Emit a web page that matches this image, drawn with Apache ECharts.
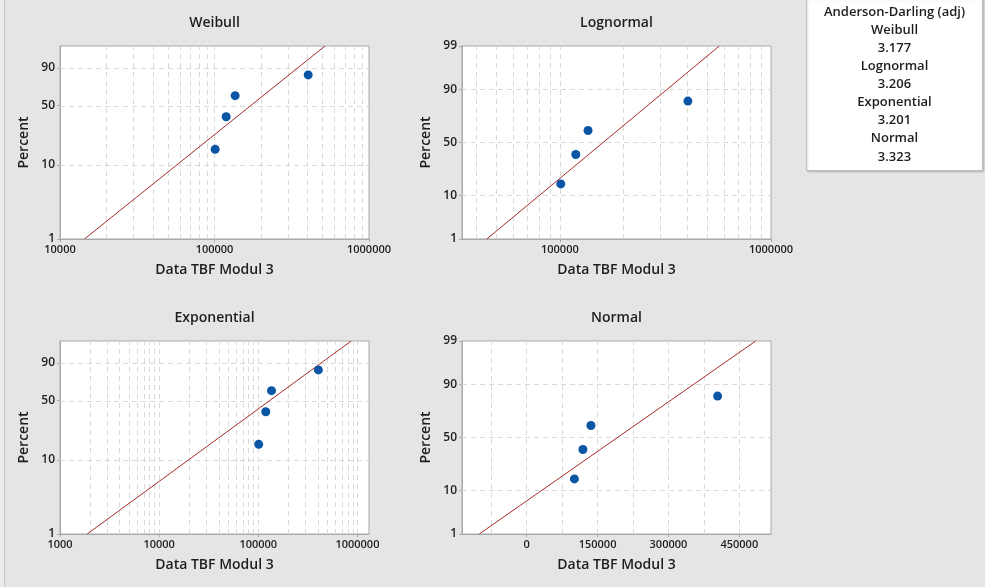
<!DOCTYPE html>
<html>
<head>
<meta charset="utf-8">
<script src="https://cdn.jsdelivr.net/npm/echarts@6/dist/echarts.min.js"></script>
<style>
html,body{margin:0;padding:0;background:#e5e5e5;}
#chart{width:985px;height:587px;}
</style>
</head>
<body>
<div id="chart"></div>
<script>
// ---------- data ----------
const tbfData = [101000, 119000, 136000, 404000];          // Data TBF Modul 3
const percentData = [15.9, 38.6, 61.4, 84.1];               // plotted percent
const fitPercent = [1, 99];                                  // fitted line end percents
const weibullFitX = [14400, 519000];
const lognormalFitX = [45100, 569000];
const exponentialFitX = [1880, 865000];
const normalFitX = [-100300, 484600];

const panelTitles = ['Weibull', 'Lognormal', 'Exponential', 'Normal'];
const xAxisName = 'Data TBF Modul 3';
const yAxisName = 'Percent';

const weibullYTicks = [1, 10, 50, 90];
const lognormalYTicks = [1, 10, 50, 90, 99];
const exponentialYTicks = [1, 10, 50, 90];
const normalYTicks = [1, 10, 50, 90, 99];
const yGridPercents = [10, 50, 90];

const normalXTicks = [0, 150000, 300000, 450000];
const weibullXGrid = [20000, 30000, 40000, 50000, 60000, 70000, 80000, 90000, 100000, 200000, 300000, 400000, 500000, 600000, 700000, 800000, 900000];
const lognormalXGrid = [40000, 50000, 60000, 70000, 80000, 90000, 100000, 200000, 300000, 400000, 500000, 600000, 700000, 800000, 900000];
const exponentialXGrid = [2000, 3000, 4000, 5000, 6000, 7000, 8000, 9000, 10000, 20000, 30000, 40000, 50000, 60000, 70000, 80000, 90000, 100000, 200000, 300000, 400000, 500000, 600000, 700000, 800000, 900000, 1000000];
const normalXGrid = [-75000, 0, 75000, 150000, 225000, 300000, 375000, 450000];

const adTitle = 'Anderson-Darling (adj)';
const adNames = ['Weibull', 'Lognormal', 'Exponential', 'Normal'];
const adValues = ['3.177', '3.206', '3.201', '3.323'];

// ---------- probability scale transforms ----------
function invNorm(p){
  const a=[-3.969683028665376e+01,2.209460984245205e+02,-2.759285104469687e+02,1.383577518672690e+02,-3.066479806614716e+01,2.506628277459239e+00];
  const b=[-5.447609879822406e+01,1.615858368580409e+02,-1.556989798598866e+02,6.680131188771972e+01,-1.328068155288572e+01];
  const c=[-7.784894002430293e-03,-3.223964580411365e-01,-2.400758277161838e+00,-2.549732539343734e+00,4.374664141464968e+00,2.938163982698783e+00];
  const d=[7.784695709041462e-03,3.224671290700398e-01,2.445134137142996e+00,3.754408661907416e+00];
  const pl=0.02425, ph=1-pl; let q,r;
  if(p<pl){q=Math.sqrt(-2*Math.log(p));return (((((c[0]*q+c[1])*q+c[2])*q+c[3])*q+c[4])*q+c[5])/((((d[0]*q+d[1])*q+d[2])*q+d[3])*q+1);}
  if(p>ph){q=Math.sqrt(-2*Math.log(1-p));return -(((((c[0]*q+c[1])*q+c[2])*q+c[3])*q+c[4])*q+c[5])/((((d[0]*q+d[1])*q+d[2])*q+d[3])*q+1);}
  q=p-0.5;r=q*q;return (((((a[0]*r+a[1])*r+a[2])*r+a[3])*r+a[4])*r+a[5])*q/(((((b[0]*r+b[1])*r+b[2])*r+b[3])*r+b[4])*r+1);
}
const tWeibull = p => Math.log(-Math.log(1 - p / 100));
const tNormal = p => invNorm(p / 100);

// ---------- layout ----------
const FONT = '"Open Sans", "Noto Sans", sans-serif';
const TXT = '#1e1e1e';
const GRIDC = '#d9d9d9';
const panels = [
  {left: 60,  top: 46,  xType: 'log',   xMin: 10000,  xMax: 1000000, t: tWeibull, yTicks: weibullYTicks,     xGrid: weibullXGrid,     fitX: weibullFitX},
  {left: 462, top: 46,  xType: 'log',   xMin: 34400,  xMax: 1000000, t: tNormal,  yTicks: lognormalYTicks,   xGrid: lognormalXGrid,   fitX: lognormalFitX},
  {left: 60,  top: 341, xType: 'log',   xMin: 1000,   xMax: 1309000, t: tWeibull, yTicks: exponentialYTicks, xGrid: exponentialXGrid, fitX: exponentialFitX},
  {left: 462, top: 341, xType: 'value', xMin: -136800, xMax: 517000, t: tNormal,  yTicks: normalYTicks,      xGrid: normalXGrid,      fitX: normalFitX}
];
const W = 309, H = 193;

const grids = [], xAxes = [], yAxes = [], series = [];
const gridLine = {color: GRIDC, type: [5, 4], width: 1};

panels.forEach((pn, i) => {
  grids.push({left: pn.left, top: pn.top, width: W, height: H, show: true,
    backgroundColor: '#ffffff', borderColor: '#a8a8a8', borderWidth: 1, outerBoundsMode: 'none', containLabel: false});
  const xa = {
    type: pn.xType, gridIndex: i, min: pn.xMin, max: pn.xMax,
    name: xAxisName, nameLocation: 'middle', nameGap: 24,
    nameTextStyle: {fontFamily: FONT, fontSize: 14, fontWeight: 600, color: TXT},
    axisLine: {show: true, onZero: false, lineStyle: {color: '#a8a8a8'}},
    axisTick: {show: true, length: 3, lineStyle: {color: '#a8a8a8'}},
    splitLine: {show: false},
    axisLabel: {fontFamily: FONT, fontSize: 11, fontWeight: 600, color: TXT, margin: 5,
      showMinLabel: pn.xType === 'log' && pn.xMin === 34400 ? false : true,
      showMaxLabel: pn.xMax === 1309000 ? false : true,
      formatter: v => String(Math.round(v))}
  };
  if (pn.xType === 'log') { xa.logBase = 10; }
  else {
    xa.axisLabel.customValues = normalXTicks;
    xa.axisTick.customValues = normalXTicks;
  }
  xAxes.push(xa);

  const yVals = pn.yTicks.map(pn.t);
  yAxes.push({
    type: 'value', gridIndex: i, min: pn.t(1), max: pn.t(99),
    name: yAxisName, nameLocation: 'middle', nameGap: 29, nameRotate: 90,
    nameTextStyle: {fontFamily: FONT, fontSize: 14, fontWeight: 600, color: TXT},
    axisLine: {show: true, onZero: false, lineStyle: {color: '#a8a8a8'}},
    axisTick: {show: true, length: 3, customValues: yVals, lineStyle: {color: '#a8a8a8'}},
    splitLine: {show: false},
    axisLabel: {fontFamily: FONT, fontSize: 12, fontWeight: 600, color: TXT, margin: 5,
      customValues: yVals,
      formatter: v => {
        let best = pn.yTicks[0], bd = Infinity;
        pn.yTicks.forEach(p => { const dd = Math.abs(pn.t(p) - v); if (dd < bd) { bd = dd; best = p; } });
        return String(best);
      }}
  });

  // gridlines drawn through the axes' scales
  series.push({
    type: 'line', xAxisIndex: i, yAxisIndex: i, data: [], z: 1, silent: true, animation: false,
    markLine: {silent: true, symbol: 'none', animation: false, z: 1, label: {show: false},
      lineStyle: gridLine, emphasis: {disabled: true},
      data: pn.xGrid.map(v => ({xAxis: v})).concat(yGridPercents.map(p => ({yAxis: pn.t(p)})))}
  });
  // fitted line
  series.push({
    type: 'line', xAxisIndex: i, yAxisIndex: i, z: 3, silent: true, animation: false,
    showSymbol: false, symbol: 'none',
    lineStyle: {color: '#a82a2a', width: 1},
    data: pn.fitX.map((x, k) => [x, pn.t(fitPercent[k])])
  });
  // data points
  series.push({
    type: 'scatter', xAxisIndex: i, yAxisIndex: i, z: 6, silent: true, animation: false,
    symbol: 'circle', symbolSize: 9,
    itemStyle: {color: '#0a56a5', opacity: 1},
    data: tbfData.map((x, k) => [x, pn.t(percentData[k])])
  });
});

const titleGraphics = panels.map((pn, i) => ({
  type: 'text', x: pn.left + W / 2, y: pn.top - 23,
  style: {text: panelTitles[i], fill: TXT, font: '600 14px ' + FONT, textAlign: 'center', textVerticalAlign: 'middle'},
  silent: true
}));

const extras = [
  {type: 'rect', shape: {x: 0, y: 0, width: 4, height: 587}, style: {fill: '#ececec'}, silent: true},
  {type: 'line', shape: {x1: 4.5, y1: 0, x2: 4.5, y2: 587}, style: {stroke: '#c6c6c6', lineWidth: 1}, silent: true},
  {type: 'rect', shape: {x: 806.5, y: -2, width: 176, height: 172.5}, style: {fill: '#ffffff', stroke: '#bdbdbd', lineWidth: 1, shadowBlur: 2, shadowColor: 'rgba(0,0,0,0.15)', shadowOffsetX: 1, shadowOffsetY: 1}, silent: true}
];
const legendLines = [adTitle];
adNames.forEach((n, k) => { legendLines.push(n); legendLines.push(adValues[k]); });
legendLines.forEach((s, k) => {
  extras.push({type: 'text', x: 894.5, y: 12 + k * 18.1,
    style: {text: s, fill: TXT, font: '600 13px ' + FONT, textAlign: 'center', textVerticalAlign: 'middle'}, silent: true});
});

const chart = echarts.init(document.getElementById('chart'), null, {renderer: 'canvas'});
chart.setOption({
  backgroundColor: '#e5e5e5',
  animation: false,
  grid: grids,
  xAxis: xAxes,
  yAxis: yAxes,
  series: series,
  graphic: {elements: extras.concat(titleGraphics)}
});
</script>
</body>
</html>
